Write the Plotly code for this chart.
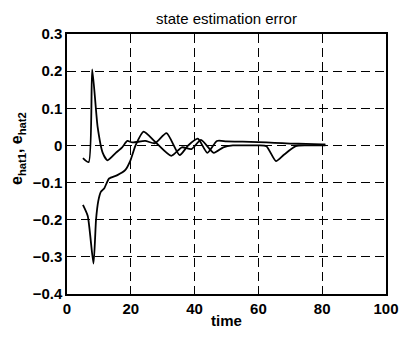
import plotly.graph_objects as go

# Data
tA = [5, 6.8, 7.9, 9.6, 11.2, 12.7, 15.3, 17.3, 18.9, 20.5, 24.5, 27.6, 31.2, 35.3, 38, 41, 44, 47, 50, 55, 60, 65, 70, 75, 80, 81]
eA = [-0.034, -0.045, 0.205, 0.05, -0.02, -0.04, -0.02, -0.005, 0.012, 0.008, 0.012, 0.006, 0.033, -0.026, 0.0, 0.018, -0.02, 0.012, 0.011, 0.010, 0.009, 0.007, 0.005, 0.004, 0.003, 0.003]

tB = [5, 6.5, 8.3, 9.1, 9.8, 10.6, 11.7, 13.2, 15.8, 18.3, 19.9, 21.5, 24, 27.6, 32.7, 36, 39, 42, 46, 49, 52, 55, 60, 62.5, 65.5, 68, 71.7, 75, 80, 81]
eB = [-0.16, -0.19, -0.318, -0.2, -0.15, -0.125, -0.115, -0.089, -0.08, -0.066, -0.04, 0.0, 0.037, 0.01, -0.028, -0.005, -0.01, 0.015, -0.02, -0.005, 0.0, 0.0, 0.0, -0.002, -0.042, -0.025, -0.002, 0.0, 0.0, 0.0]

xticks = [0, 20, 40, 60, 80, 100]
yticks = [-0.4, -0.3, -0.2, -0.1, 0, 0.1, 0.2, 0.3]
ytext = ["\u22120.4", "\u22120.3", "\u22120.2", "\u22120.1", "0", "0.1", "0.2", "0.3"]

fig = go.Figure()
fig.add_trace(go.Scatter(x=tA, y=eA, mode="lines", line=dict(color="black", width=1.8, shape="spline", smoothing=0.6), showlegend=False))
fig.add_trace(go.Scatter(x=tB, y=eB, mode="lines", line=dict(color="black", width=1.8, shape="spline", smoothing=0.6), showlegend=False))

axfont = dict(family="Liberation Sans", size=15, color="black", weight="bold")
fig.update_layout(
    width=411, height=339,
    margin=dict(l=67, r=18, t=34, b=45),
    paper_bgcolor="white", plot_bgcolor="white",
    title=dict(text="state estimation error", xref="paper", x=0.5, xanchor="center", y=0.945, yanchor="middle",
               font=dict(family="Liberation Sans", size=15, color="black")),
    xaxis=dict(range=[0, 100], tickvals=xticks, ticktext=[str(v) for v in xticks],
               showgrid=True, gridcolor="black", gridwidth=1, griddash="9px,5px",
               showline=True, linecolor="black", linewidth=1.5, mirror=True,
               ticks="inside", ticklen=4, tickcolor="black", tickfont=axfont, zeroline=False,
               title=dict(text="time", font=dict(family="Liberation Sans", size=15, color="black", weight="bold"), standoff=0)),
    yaxis=dict(range=[-0.4, 0.3], tickvals=yticks, ticktext=ytext,
               showgrid=True, gridcolor="black", gridwidth=1, griddash="9px,5px",
               showline=True, linecolor="black", linewidth=1.5, mirror=True,
               ticks="inside", ticklen=4, tickcolor="black", tickfont=axfont, zeroline=False),
    annotations=[dict(text="e<sub>hat1</sub>, e<sub>hat2</sub>", xref="paper", yref="paper",
                      x=-0.155, y=0.56, xanchor="center", yanchor="middle", textangle=-90, showarrow=False,
                      font=dict(family="Liberation Sans", size=16, color="black", weight="bold"))],
)
fig.write_html("out.html")
